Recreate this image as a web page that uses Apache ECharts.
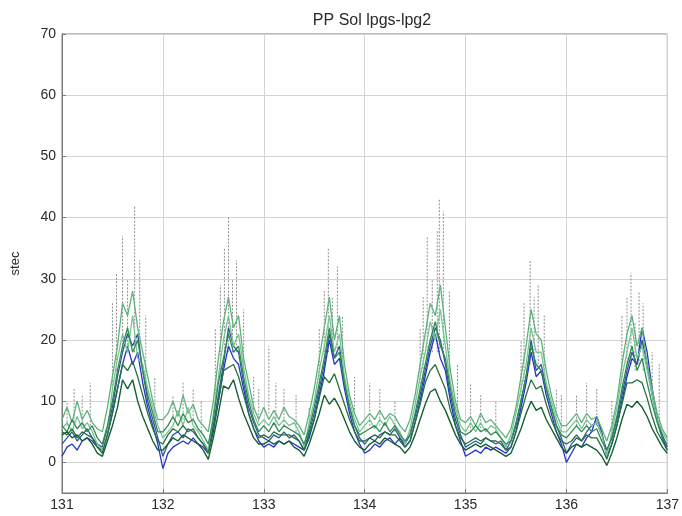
<!DOCTYPE html>
<html>
<head>
<meta charset="utf-8">
<script src="https://cdn.jsdelivr.net/npm/echarts@6/dist/echarts.min.js"></script>
<style>html,body{margin:0;padding:0;background:#fff}#c{width:682px;height:516px}</style>
</head>
<body>
<div id="c"></div>
<script>
const START = 131, STEP = 0.05;
const xTicks = [131, 132, 133, 134, 135, 136, 137];
const yTicks = [0, 10, 20, 30, 40, 50, 60, 70];

const g1 = [
4.5,5,4,4.5,3.5,4,3,1.5,1,3.5,6,9,13.5,12,13.5,10,7.5,5.5,3.5,2,
2,3,4,3.5,4.5,4,3.5,3,2,0.5,4,8,12.5,12,13.5,10.5,8,6,4,3,
3,3.5,3,3.5,3,3.5,2.5,2,1,3,5.5,8,11,9.5,10.5,9,7,5,3.5,2.5,
2,3,3.5,3,4,3.5,3,2.5,1.5,2.5,4.5,7,9.5,11.5,12,10,8.5,6.5,4.5,3,
2,2.5,3,2.5,3,2.5,2,1.5,1,1.5,3.5,5.5,8,10,8.5,9,7,5.5,4,2.5,
1.5,2.5,3,2.5,3,2.5,2,1,-0.5,1.5,4,7,9.5,9,10,9,7.5,5.5,4,2.5,
1.5];
const g5 = [
5,4.5,5.5,4,5,4.5,4,2.5,1.5,4.5,8,12,16,15,16.5,14,11,8,5.5,3.5,
3,4.5,5.5,5,6,5,5.5,4,3,1.5,5.5,10,15,15.5,16,14,11,8,5.5,4,
4.5,4,5,4.5,4.5,4.5,4,3.5,2,4.5,7,10.5,14,13,14.5,12,9.5,7,5,3.5,
3.5,4,4.5,4,5,4.5,4.5,3.5,2.5,3.5,6.5,9.5,13,15,16,14,12,8.5,6,4,
3,3.5,4,3.5,4,3.5,3.5,3,2,2.5,5,8,11,13.5,12,12.5,9.5,7,5,3.5,
3,3.5,4.5,3.5,4.5,4,4,2.5,0.5,3,6,9.5,13,13,13.5,13,10.5,7.5,5,3.5,
2];
const g2 = [
6,5,7,5.5,6.5,5,6,4,3,6,10,15,19,22,18,20,15,11,8,5,
5,6,7.5,6,8,6.5,7,5.5,4.5,3,7,13,17,21,18,19,14,10,7,5,
6,5,6.5,5,6,5.5,5,4.5,3,5.5,9,13,17,22,17,18,13,9,6,4.5,
5,5.5,6,5,6.5,5,6,4.5,3.5,4.5,8,12,16,20,23,19,17,12,8,5,
4.5,5,6,5,5.5,4.5,5,4,3,3.5,6.5,10,14,19,16,15,12,9,6,4.5,
4,5,6,5,6,5,5.5,3.5,2,4,7.5,12,16,19,15,17,13,9.5,6.5,4,
3];
const g3 = [
7,9,6.5,10,7,8.5,6.5,5.5,5,9,14,19,26,24,28,22,18,14,10,7,
7,8,10,7.5,11,8,9.5,7,6,5,10,17,23,27,22,24,17,13,9,7,
9,7,8.5,7,9,7.5,7,6,4.5,8,12,17,22,27,20,24,16,11,8,6,
7,8,7,8.5,7,8,7.5,6,5,7,11,16,21,26,24,29,22,15,10,7,
6.5,7.5,6,8,6.5,7,6,5,4,5.5,9,14,19,25,21,20,15,11,8,6,
6,7,8,6.5,8,7,7.5,5.5,3.5,6,10,16,21,24,19,22,16,12,8,5.5,
4];
const g4 = [
5.5,6.5,5,7.5,5.5,6.5,5,3,2,5,12,17,21,18,24,17,16,12,9,6,
4,5,6,8.5,6,9,6,5,3.5,2,8,14,20,24,19,21,15.5,11,8,6,
7,6,7.5,6,7,6,6.5,5,2.5,6.5,10,15,19,24,18,21,14,10,7,5,
6,7,5.5,7,6,7.5,6,5,3,5.5,9.5,14,18,23,20,25,19,13,9,6,
5,6.5,5,6.5,5,6,5.5,4,2.5,4.5,8,12,16,22,18,18,13,10,7,5,
5,6,7,5.5,7,6,6.5,4.5,1,5,9,14,18,22,17,19,15,11,7,5,
3.5];
const b1 = [
1,2.5,3,2,3.5,4,3.5,2.5,2,4.5,8,12,16,19,16,18,13,9,6,3,
-1,1.5,2.5,3,3.5,3,4,3,2.5,1.5,5,10,15,19,17,16,12,8,5.5,3.5,
2.5,3,2.5,3.5,3,3.5,3,2.5,2,4,7,11,15,20,16,17,12,8,5,3,
1.5,2,3,2.5,3.5,4,3,4,2.5,3.5,6.5,10,14,18,21,17,15,10,6,3.5,
1,1.5,2,1.5,2.5,2,2.5,2,1.5,2.5,5,9,13,18,14,15,11,8,5,3,
0,1.5,3,2.5,4,5,7.5,5,1,3,6,10,14,17,16,22,18,12,7,4,
2];
const b2 = [
3,4,5,3.5,4.5,5.5,4,3,2.5,5.5,9,14,18,21,19,21,15,10,7,4,
1,3,4.5,5,4,5.5,5,4,3,2,6,11,16,22,19,18,13,9,6.5,4.5,
4,3.5,4.5,4,5,4,4.5,3.5,2,5,8,12,16,21,17,19,13,9,6,4,
3,4,3.5,4.5,5,4.5,5.5,4,3,4.5,7.5,11,15,19,22,20,16,11,7,4.5,
2.5,3,3.5,3,4,3.5,3,3.5,2,3.5,6,10,14,20,15,16,12,9,6,4,
1.5,3,4,3.5,5,6,6.5,4.5,2,4,7,11,15,18,16,20,16,11,7,4.5,
2.5];

const spikeX = [131.12,131.2,131.5,131.54,131.6,131.65,131.72,131.77,131.83,
132.2,132.3,132.52,132.57,132.61,132.65,132.69,132.73,132.8,132.9,
133.05,133.2,133.55,133.6,133.64,133.68,133.73,133.78,133.9,
134.05,134.55,134.58,134.62,134.67,134.72,134.74,134.78,134.84,
135.05,135.55,135.58,135.64,135.68,135.72,135.78,135.9,
136.1,136.2,136.55,136.6,136.64,136.68,136.72,136.76,136.85,
131.05,131.28,131.92,132.1,132.38,132.95,133.12,133.32,133.45,
134.15,134.3,134.92,135.15,135.3,135.95,136.3,136.45,136.92];
const spikeTop = [12,11,26,31,37,30,42,33,24,
13,12,22,29,35,40,30,33,25,14,
19,12,22,28,35,27,32,24,14,
13,22,27,37,30,38,43,41,28,
13,20,26,33,27,29,24,12,
11,13,24,27,31,23,28,26,18,
10,13,14,11,10,12,13,11,9,
12,10,16,11,10,11,12,10,16];
const spikeBase = [6,6,12,15,18,18,18,18,13,
7,7,10,14,18,18,18,18,14,8,
8,6,10,14,18,18,18,16,8,
6,10,13,17,18,18,18,18,15,
5,8,12,16,16,16,14,7,
6,6,11,14,16,15,16,15,11,
6,6,6,7,5,6,6,5,4,
6,5,7,5,5,5,6,4,6];

const xs = g1.map((_, i) => +(START + i * STEP).toFixed(2));
const pairs = arr => arr.map((v, i) => [xs[i], v]);

function lineSeries(name, data, color, width) {
  return { name, type: 'line', data: pairs(data), symbol: 'none', showSymbol: false,
    lineStyle: { color, width: width || 1.3 }, itemStyle: { color }, z: 3, animation: false };
}

const chart = echarts.init(document.getElementById('c'), null, { renderer: 'canvas' });
const font = 'Liberation Sans, Arial, sans-serif';
chart.setOption({
  animation: false,
  backgroundColor: '#ffffff',
  title: { text: 'PP Sol lpgs-lpg2', left: 367, top: 8, textAlign: 'center',
    textStyle: { fontSize: 16, fontWeight: 'normal', color: '#2a2a2a', fontFamily: font } },
  grid: { left: 62, right: 9, top: 34, bottom: 23, show: true, borderColor: '#7a7a7a', borderWidth: 1 },
  xAxis: { type: 'value', min: 131, max: 137, interval: 1,
    axisLine: { show: true, onZero: false, lineStyle: { color: '#7a7a7a' } },
    axisTick: { show: true, inside: true, length: 4, lineStyle: { color: '#7a7a7a' } },
    axisLabel: { color: '#2a2a2a', fontSize: 14, fontFamily: font, margin: 5, showMaxLabel: true, showMinLabel: true },
    splitLine: { show: true, lineStyle: { color: '#d4d4d4', width: 1 } } },
  yAxis: { type: 'value', min: -5, max: 70,
    name: 'stec', nameLocation: 'middle', nameGap: 40, nameRotate: 90,
    nameTextStyle: { color: '#2a2a2a', fontSize: 13, fontFamily: font },
    axisLine: { show: true, lineStyle: { color: '#7a7a7a' } },
    axisTick: { show: true, inside: true, length: 4, customValues: yTicks, lineStyle: { color: '#7a7a7a' } },
    axisLabel: { color: '#2a2a2a', fontSize: 14, fontFamily: font, margin: 6, customValues: yTicks },
    splitLine: { show: true, lineStyle: { color: '#d4d4d4', width: 1 } } },
  series: [
    { name: 'spikes', type: 'custom', animation: false, z: 2,
      data: spikeX.map((x, i) => [x, spikeBase[i], spikeTop[i]]),
      encode: { x: 0, y: [1, 2] },
      renderItem: (params, api) => {
        const x = api.value(0), b = api.value(1), t = api.value(2);
        const p1 = api.coord([x, b]), p2 = api.coord([x, t]);
        return { type: 'line', shape: { x1: p1[0], y1: p1[1], x2: p2[0], y2: p2[1] },
          style: { stroke: '#8f8f8f', lineWidth: 1, lineDash: [2, 1.5] } };
      } },
    lineSeries('b1', b1, '#2433c8'),
    lineSeries('b2', b2, '#2d5a94'),
    lineSeries('g3', g3, '#5cb27a'),
    lineSeries('g4', g4, '#79c493'),
    lineSeries('g2', g2, '#2d8a52'),
    lineSeries('g5', g5, '#24703f'),
    lineSeries('g1', g1, '#155f33', 1.4)
  ]
});
</script>
</body>
</html>
